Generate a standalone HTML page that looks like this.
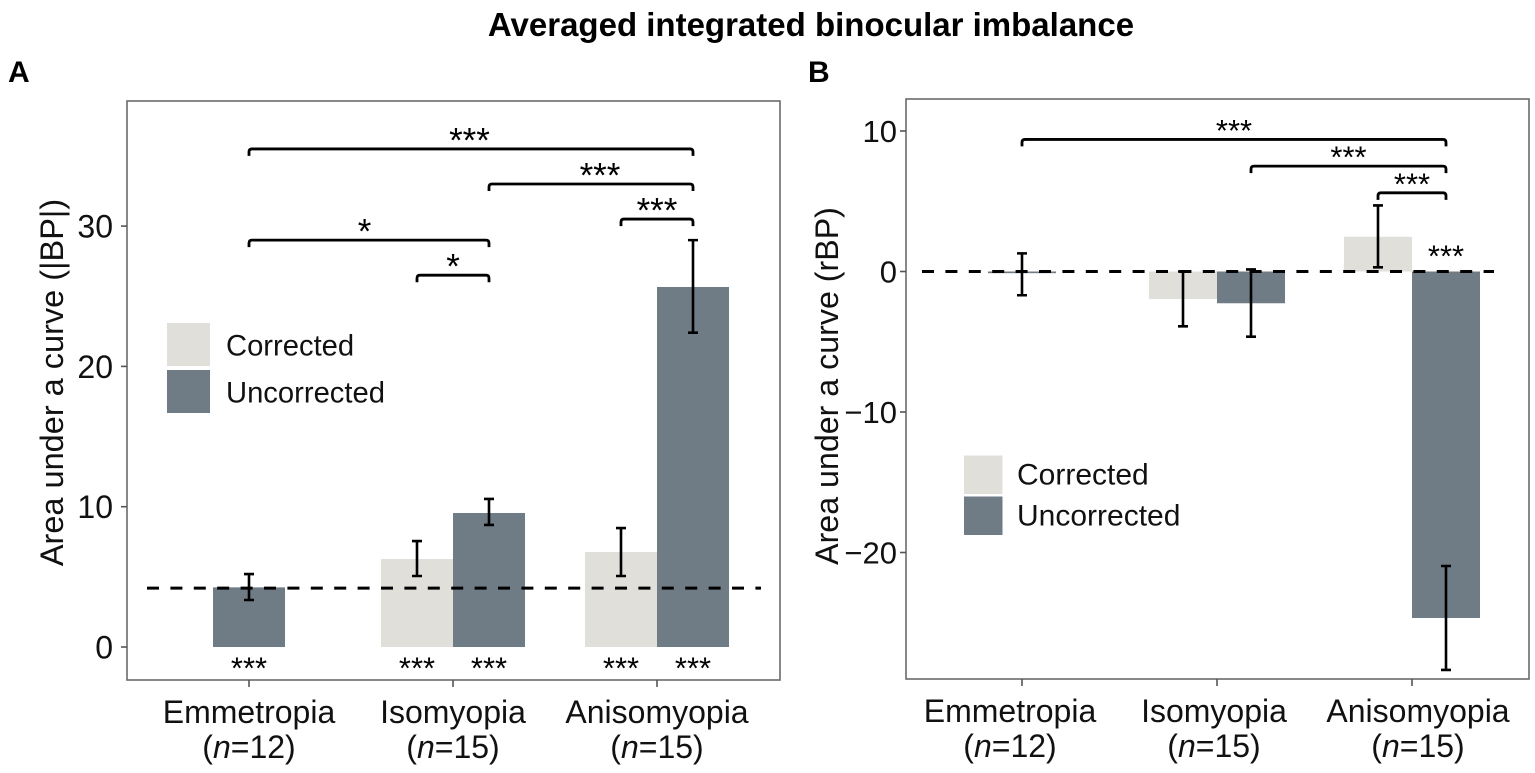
<!DOCTYPE html>
<html lang="en">
<head>
<meta charset="utf-8">
<title>Averaged integrated binocular imbalance</title>
<style>
html,body{margin:0;padding:0;background:#fff;width:1535px;height:773px;overflow:hidden}
svg{display:block;font-family:"Liberation Sans",Arial,sans-serif;filter:blur(0.3px)}
</style>
</head>
<body>
<svg id="figure" xmlns="http://www.w3.org/2000/svg" width="1535" height="773" viewBox="0 0 1535 773">
<text x="811" y="36" text-anchor="middle" font-size="33" font-weight="700" fill="#000">Averaged integrated binocular imbalance</text>
<text x="8" y="82" font-size="30" font-weight="700" fill="#000">A</text>
<text x="808" y="82" font-size="30" font-weight="700" fill="#000">B</text>
</svg>
<script>
var categories = ['Emmetropia', 'Isomyopia', 'Anisomyopia'];
var sampleSizes = [12, 15, 15];
var seriesNames = ['Corrected', 'Uncorrected'];

var aTicks = [0, 10, 20, 30];
var aCorrected = [null, 6.27, 6.77];
var aUncorrected = [4.25, 9.55, 25.66];
var aCorrectedHigh = [null, 7.55, 8.48];
var aCorrectedLow = [null, 5.06, 5.06];
var aUncorrectedHigh = [5.2, 10.55, 29.0];
var aUncorrectedLow = [3.35, 8.7, 22.4];
var aReference = 4.2;
var aBracketFromCat = [0, 1, 2, 0, 1];
var aBracketFromSide = [0, 1, -1, 0, -1];
var aBracketToCat = [2, 2, 2, 1, 1];
var aBracketToSide = [1, 1, 1, 1, 1];
var aBracketLevel = [35.5, 33.0, 30.5, 29.0, 26.5];
var aBracketLabel = ['***', '***', '***', '*', '*'];
var aStarCat = [0, 1, 1, 2, 2];
var aStarSide = [0, -1, 1, -1, 1];
var aStarLevel = [-1.2, -1.2, -1.2, -1.2, -1.2];
var aStarLabel = ['***', '***', '***', '***', '***'];

var bTicks = [-20, -10, 0, 10];
var bCorrected = [null, -1.96, 2.47];
var bUncorrected = [-0.12, -2.26, -24.66];
var bCorrectedHigh = [null, 0, 4.7];
var bCorrectedLow = [null, -3.9, 0.3];
var bUncorrectedHigh = [1.29, 0.15, -20.96];
var bUncorrectedLow = [-1.69, -4.64, -28.36];
var bReference = 0;
var bBracketFromCat = [0, 1, 2];
var bBracketFromSide = [0, 1, -1];
var bBracketToCat = [2, 2, 2];
var bBracketToSide = [1, 1, 1];
var bBracketLevel = [9.4, 7.5, 5.6];
var bBracketLabel = ['***', '***', '***'];
var bStarCat = [2];
var bStarSide = [1];
var bStarLevel = [1.4];
var bStarLabel = ['***'];

var SVG_NS = 'http://www.w3.org/2000/svg';
var root = document.getElementById('figure');

function make(parent, tag, attrs, text) {
  var node = document.createElementNS(SVG_NS, tag);
  for (var key in attrs) node.setAttribute(key, attrs[key]);
  if (text !== undefined) node.textContent = text;
  parent.appendChild(node);
  return node;
}

function drawPanel(p) {
  function xAxis(cat) { return p.firstX + p.stepX * cat; }
  function side(cat, s) { return xAxis(cat) + s * p.barWidth / 2; }
  function yAxis(v) { return p.zeroY - v * p.unitY; }

  var group = make(root, 'g', {});
  
  

  p.corrected.forEach(function (v, i) {
    if (v === null) return;
    var bar = make(group, 'rect', {
      x: xAxis(i) - p.barWidth, y: Math.min(yAxis(v), yAxis(0)),
      width: p.barWidth, height: Math.abs(yAxis(v) - yAxis(0)), fill: '#e1dfda'
    });
    
    
  });

  p.uncorrected.forEach(function (v, i) {
    var single = p.corrected[i] === null;
    var left = single ? xAxis(i) - p.barWidth / 2 : xAxis(i);
    var bar = make(group, 'rect', {
      x: left, y: Math.min(yAxis(v), yAxis(0)),
      width: p.barWidth, height: Math.abs(yAxis(v) - yAxis(0)), fill: '#6f7b85'
    });
    
    
  });

  function errorBar(cx, hi, lo, name) {
    var d = 'M' + (cx - 5) + ' ' + yAxis(hi) + 'H' + (cx + 5) +
            'M' + cx + ' ' + yAxis(hi) + 'V' + yAxis(lo) +
            'M' + (cx - 5) + ' ' + yAxis(lo) + 'H' + (cx + 5);
    var err = make(group, 'path', { d: d, fill: 'none', stroke: '#000', 'stroke-width': 2.6 });
    
    
  }
  p.correctedHigh.forEach(function (hi, i) {
    if (hi === null) return;
    errorBar(side(i, -1), hi, p.correctedLow[i], p.id + '-corrected-error-' + categories[i].toLowerCase());
  });
  p.uncorrectedHigh.forEach(function (hi, i) {
    var cx = p.corrected[i] === null ? xAxis(i) : side(i, 1);
    errorBar(cx, hi, p.uncorrectedLow[i], p.id + '-uncorrected-error-' + categories[i].toLowerCase());
  });

  var refLine = make(group, 'line', {
    x1: p.refLeft, x2: p.refRight, y1: yAxis(p.reference), y2: yAxis(p.reference),
    stroke: '#000', 'stroke-width': 3, 'stroke-dasharray': '12 11.4'
  });
  
  

  var frame = make(group, 'rect', {
    x: p.left, y: p.top, width: p.right - p.left, height: p.bottom - p.top,
    fill: 'none', stroke: '#6b6b6b', 'stroke-width': 1.6
  });
  
  

  p.ticks.forEach(function (t) {
    var mark = make(group, 'line', {
      x1: p.left - 6, x2: p.left, y1: yAxis(t), y2: yAxis(t), stroke: '#555', 'stroke-width': 1.6
    });
    
    
    var lab = make(group, 'text', {
      x: p.left - p.tickGap, y: yAxis(t) + p.tickFont * 0.36, 'text-anchor': 'end', 'font-size': p.tickFont, fill: '#111'
    }, String(t).replace('-', '\u2212'));
    
    
  });

  categories.forEach(function (c, i) {
    var mark = make(group, 'line', {
      x1: xAxis(i), x2: xAxis(i), y1: p.bottom, y2: p.bottom + 7, stroke: '#555', 'stroke-width': 1.6
    });
    
    
    var cx = xAxis(i) + p.labelShift[i];
    var lab = make(group, 'text', {
      x: cx, y: p.bottom + 43, 'text-anchor': 'middle', 'font-size': 32, fill: '#111'
    }, c);
    
    
    var sub = make(group, 'text', {
      x: cx, y: p.bottom + 78, 'text-anchor': 'middle', 'font-size': 32, fill: '#111'
    });
    
    
    make(sub, 'tspan', {}, '(');
    make(sub, 'tspan', { 'font-style': 'italic' }, 'n');
    make(sub, 'tspan', {}, '=' + sampleSizes[i] + ')');
  });

  var title = make(group, 'text', {
    x: 0, y: 0, 'text-anchor': 'middle', 'font-size': p.titleFont, fill: '#111',
    transform: 'translate(' + p.titleX + ' ' + p.titleY + ') rotate(-90)'
  }, p.title);
  
  

  p.bracketLevel.forEach(function (level, i) {
    var x1 = side(p.bracketFromCat[i], p.bracketFromSide[i]);
    var x2 = side(p.bracketToCat[i], p.bracketToSide[i]);
    var y = yAxis(level);
    var d = 'M' + x1 + ' ' + (y + 7) + 'V' + (y + 3) + 'Q' + x1 + ' ' + y + ' ' + (x1 + 3) + ' ' + y +
            'H' + (x2 - 3) + 'Q' + x2 + ' ' + y + ' ' + x2 + ' ' + (y + 3) + 'V' + (y + 7);
    var br = make(group, 'path', { d: d, fill: 'none', stroke: '#000', 'stroke-width': 2.8 });
    
    
    var star = make(group, 'text', {
      x: (x1 + x2) / 2 + p.bracketStarShift[i], y: y - 13 + 0.47 * p.bracketStarFont,
      'text-anchor': 'middle', 'font-size': p.bracketStarFont, fill: '#000'
    }, p.bracketLabel[i]);
    
    
  });

  p.starLevel.forEach(function (level, i) {
    var cx = p.corrected[p.starCat[i]] === null ? xAxis(p.starCat[i]) : side(p.starCat[i], p.starSide[i]);
    var star = make(group, 'text', {
      x: cx, y: yAxis(level) + 0.47 * 31, 'text-anchor': 'middle', 'font-size': 31, fill: '#000'
    }, p.starLabel[i]);
    
    
  });

  seriesNames.forEach(function (name, i) {
    var swatch = make(group, 'rect', {
      x: p.legendX, y: p.legendY + i * p.legendStep, width: p.legendSize, height: p.legendSize,
      fill: i === 0 ? '#e1dfda' : '#6f7b85'
    });
    
    
    var lab = make(group, 'text', {
      x: p.legendTextX, y: p.legendY + i * p.legendStep + p.legendSize / 2 + p.legendTextDy,
      'font-size': p.legendFont, fill: '#111'
    }, name);
    
    
  });
}

drawPanel({
  id: 'panel-a', title: 'Area under a curve (|BP|)', titleX: 63, titleY: 382.5, titleFont: 32.5,
  left: 127, right: 780, top: 101, bottom: 680,
  firstX: 249, stepX: 204, barWidth: 72, zeroY: 647, unitY: 14.03,
  refLeft: 147, refRight: 761,
  tickGap: 14, tickFont: 32,
  labelShift: [0, 0, 0],
  ticks: aTicks, reference: aReference,
  corrected: aCorrected, uncorrected: aUncorrected,
  correctedHigh: aCorrectedHigh, correctedLow: aCorrectedLow,
  uncorrectedHigh: aUncorrectedHigh, uncorrectedLow: aUncorrectedLow,
  bracketFromCat: aBracketFromCat, bracketFromSide: aBracketFromSide,
  bracketToCat: aBracketToCat, bracketToSide: aBracketToSide,
  bracketLevel: aBracketLevel, bracketLabel: aBracketLabel,
  bracketStarShift: [-1.5, 9, 0, -4.5, 0], bracketStarFont: 35,
  starCat: aStarCat, starSide: aStarSide, starLevel: aStarLevel, starLabel: aStarLabel,
  legendX: 167, legendY: 323, legendSize: 43, legendStep: 47, legendFont: 29.2,
  legendTextX: 226, legendTextDy: 11
});

drawPanel({
  id: 'panel-b', title: 'Area under a curve (rBP)', titleX: 838, titleY: 386, titleFont: 32.2,
  left: 906, right: 1529, top: 99, bottom: 679,
  firstX: 1022, stepX: 195, barWidth: 68, zeroY: 271.5, unitY: 14.05,
  refLeft: 922, refRight: 1494,
  tickGap: 9, tickFont: 31,
  labelShift: [-12, -3, 6],
  ticks: bTicks, reference: bReference,
  corrected: bCorrected, uncorrected: bUncorrected,
  correctedHigh: bCorrectedHigh, correctedLow: bCorrectedLow,
  uncorrectedHigh: bUncorrectedHigh, uncorrectedLow: bUncorrectedLow,
  bracketFromCat: bBracketFromCat, bracketFromSide: bBracketFromSide,
  bracketToCat: bBracketToCat, bracketToSide: bBracketToSide,
  bracketLevel: bBracketLevel, bracketLabel: bBracketLabel,
  bracketStarShift: [0, 0, 0], bracketStarFont: 31,
  starCat: bStarCat, starSide: bStarSide, starLevel: bStarLevel, starLabel: bStarLabel,
  legendX: 964, legendY: 455.5, legendSize: 38.5, legendStep: 41, legendFont: 30,
  legendTextX: 1017, legendTextDy: 9.5
});
</script>
</body>
</html>
